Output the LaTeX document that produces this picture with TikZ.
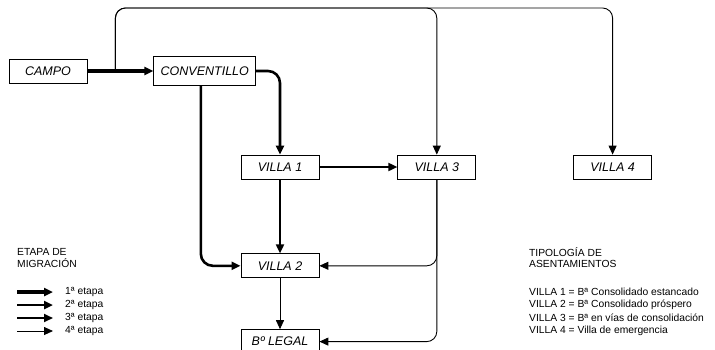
\documentclass[tikz,border=0pt]{standalone}
\usepackage{fontspec}
\setmainfont{Liberation Sans}
\usetikzlibrary{arrows.meta,positioning}
\tikzset{
  place/.style={draw, line width=0.8pt, minimum width=78pt, minimum height=24pt, inner sep=2pt, font=\fontsize{12.5}{14}\selectfont\itshape},
  legend/.style={anchor=west, inner sep=0pt, align=left, font=\fontsize{10.3}{11}\selectfont},
  tip/.style={-{Triangle[length=9pt, width=8pt]}},
  stage1/.style={tip, line width=4.5pt},
  stage2/.style={tip, line width=2.6pt},
  stage3/.style={tip, line width=1.8pt},
  stage4/.style={tip, line width=0.9pt}
}
\begin{document}
\begin{tikzpicture}[x=1pt, y=-1pt]
  \useasboundingbox (0,0) rectangle (715,349);
  % settlements
  \node[place] (campo) at (48,71) {CAMPO};
  \node[place, right=66pt of campo, minimum width=102pt, minimum height=29pt] (conv) {CONVENTILLO};
  \node[place] (v1) at (280,167) {VILLA 1};
  \node[place, right=78pt of v1] (v3) {VILLA 3};
  \node[place, right=97pt of v3] (v4) {VILLA 4};
  \node[place, below=74pt of v1] (v2) {VILLA 2};
  \node[place, below=51pt of v2] (legal) {Bº LEGAL};
  \coordinate[right=28pt of campo.east] (split);
  \coordinate (top) at (0,8);
  % migration paths
  \draw[stage4, rounded corners=10pt] (split) -- (split |- top) -| (v3.north);
  \draw[stage4, rounded corners=10pt] (split) -- (split |- top) -| (v4.north);
  \draw[stage1] (campo) -- (conv);
  \draw[stage2, rounded corners=12pt] (conv.east) -| (v1.north);
  \draw[stage2, rounded corners=12pt] ([xshift=-4pt]conv.south) |- (v2.west);
  \draw[stage3] (v1) -- (v3);
  \draw[stage3] (v1) -- (v2);
  \draw[stage4] (v2) -- (legal);
  \draw[stage4, rounded corners=10pt] (v3.south) |- (v2.east);
  \draw[stage4, rounded corners=10pt] (v3.south) |- (legal.east);
  % legend: stages
  \node[legend] (etapa) at (17,258) {ETAPA DE\\MIGRACIÓN};
  \node[legend] (e1) at (65,292) {1ª etapa};
  \node[legend] (e2) at (65,305) {2ª etapa};
  \node[legend] (e3) at (65,318) {3ª etapa};
  \node[legend] (e4) at (65,331) {4ª etapa};
  \coordinate (s1) at (17,292);
  \coordinate (s2) at (17,305);
  \coordinate (s3) at (17,318);
  \coordinate (s4) at (17,331);
  \draw[stage1, shorten >=12pt] (s1) -- (e1.west);
  \draw[stage2, shorten >=12pt] (s2) -- (e2.west);
  \draw[stage3, shorten >=12pt] (s3) -- (e3.west);
  \draw[stage4, shorten >=12pt] (s4) -- (e4.west);
  % legend: settlement types
  \node[legend] (tipo) at (529,258) {TIPOLOGÍA DE\\ASENTAMIENTOS};
  \node[legend] (t1) at (529,292) {VILLA 1 = Bª Consolidado estancado};
  \node[legend] (t2) at (529,305) {VILLA 2 = Bª Consolidado próspero};
  \node[legend] (t3) at (529,318) {VILLA 3 = Bª en vías de consolidación};
  \node[legend] (t4) at (529,331) {VILLA 4 = Villa de emergencia};
\end{tikzpicture}
\end{document}
